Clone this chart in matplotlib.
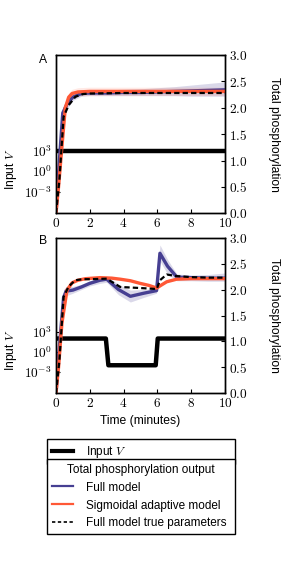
import math
import matplotlib
matplotlib.use('Agg')
import matplotlib.pyplot as plt
from matplotlib.lines import Line2D
from matplotlib.ticker import FuncFormatter, FixedLocator, NullLocator

plt.rcParams['font.family'] = ['Liberation Sans', 'DejaVu Sans']
plt.rcParams['mathtext.fontset'] = 'cm'
plt.rcParams['font.size'] = 8.7

# ---------------- data ----------------
# Panel A: constant input
tA_input = [0, 10]
input_A = [1e3, 1e3]

tA_full = [0, 0.2, 0.4, 0.7, 1.0, 1.5, 2, 3, 4, 5, 6, 7, 8, 9, 10]
full_A = [0, 1.0, 1.9, 2.1, 2.2, 2.27, 2.28, 2.28, 2.29, 2.29, 2.3, 2.31, 2.32, 2.33, 2.34]
full_A_lo = [0, 0.85, 1.8, 2.0, 2.14, 2.22, 2.23, 2.23, 2.23, 2.23, 2.23, 2.23, 2.22, 2.22, 2.22]
full_A_hi = [0, 1.15, 2.02, 2.2, 2.27, 2.33, 2.34, 2.34, 2.35, 2.36, 2.38, 2.4, 2.43, 2.46, 2.49]

tA_sig = [0, 0.15, 0.35, 0.55, 0.75, 0.95, 1.3, 2, 4, 6, 8, 10]
sig_A = [0, 0.5, 1.26, 2.0, 2.2, 2.27, 2.3, 2.31, 2.31, 2.31, 2.31, 2.31]
sig_A_lo = [0, 0.45, 1.18, 1.92, 2.12, 2.19, 2.22, 2.23, 2.23, 2.23, 2.23, 2.23]
sig_A_hi = [0, 0.55, 1.34, 2.08, 2.28, 2.35, 2.38, 2.39, 2.39, 2.39, 2.39, 2.39]

tA_true = [0, 0.2, 0.45, 0.75, 1.15, 1.6, 2, 4, 6, 8, 10]
true_A = [0, 0.63, 1.83, 2.05, 2.21, 2.26, 2.27, 2.28, 2.28, 2.28, 2.28]

# Panel B: switched input
tB_input = [0, 2.95, 3.1, 5.9, 6.02, 10]
input_B = [1e2, 1e2, 1e-2, 1e-2, 1e2, 1e2]

tB_full = [0, 0.2, 0.45, 0.6, 1.0, 1.5, 2.0, 2.6, 3.0, 3.7, 4.4, 5.2, 5.95, 6.15, 6.6, 7.15, 8, 9, 10]
full_B = [0, 0.9, 1.85, 1.97, 1.99, 2.05, 2.12, 2.18, 2.2, 2.0, 1.87, 1.93, 1.98, 2.70, 2.45, 2.24, 2.23, 2.22, 2.22]
full_B_lo = [0, 0.75, 1.7, 1.88, 1.93, 2.0, 2.07, 2.12, 2.14, 1.9, 1.76, 1.85, 1.93, 2.55, 2.3, 2.17, 2.17, 2.16, 2.16]
full_B_hi = [0, 1.05, 2.0, 2.06, 2.06, 2.1, 2.17, 2.23, 2.26, 2.1, 1.99, 2.0, 2.03, 2.86, 2.58, 2.3, 2.28, 2.29, 2.32]

tB_sig = [0, 0.15, 0.35, 0.65, 0.95, 1.3, 1.75, 2.6, 3.3, 3.8, 4.4, 4.97, 5.5, 5.96, 6.25, 6.55, 7.14, 8, 9, 10]
sig_B = [0, 0.5, 1.35, 1.99, 2.13, 2.18, 2.21, 2.23, 2.22, 2.2, 2.17, 2.12, 2.08, 2.03, 2.09, 2.15, 2.2, 2.21, 2.21, 2.21]

tB_true = [0, 0.2, 0.45, 0.75, 1.14, 1.6, 2.0, 3.0, 3.3, 3.8, 4.97, 5.96, 6.15, 6.55, 7.14, 8, 9, 10]
true_B = [0, 0.63, 1.86, 2.06, 2.18, 2.2, 2.2, 2.21, 2.15, 2.05, 2.03, 2.01, 2.18, 2.29, 2.26, 2.24, 2.23, 2.23]

input_ticks = [1e-3, 1e0, 1e3]
out_ticks = [0.0, 0.5, 1.0, 1.5, 2.0, 2.5, 3.0]
time_ticks = [0, 2, 4, 6, 8, 10]

legend_labels = ['Input $V$', 'Full model', 'Sigmoidal adaptive model',
                 'Full model true parameters']
legend_title = 'Total phosphorylation output'

# ---------------- style ----------------
BLUE = '#463f92'
RED = '#ff5836'
W, H = 282, 563
TICKSIZE = 9.6
LEGSIZE = 8.5


def axrect(l, t, r, b):
    return [l / W, 1 - b / H, (r - l) / W, (b - t) / H]


fig = plt.figure(figsize=(W / 100, H / 100), dpi=100)
axA = fig.add_axes(axrect(56, 55, 225, 213.3))
axB = fig.add_axes(axrect(56, 237.7, 225, 393.3))


def panel(ax, letter, t_in, v_in, t_full, full, lo, hi, t_sig, sig, t_true, true,
          sig_lo=None, sig_hi=None, label_y=0.97):
    ax.set_yscale('log')
    ax.set_ylim(10 ** -6.2, 10 ** 17.1)
    ax.set_xlim(0, 10)
    ax.plot(t_in, v_in, color='k', lw=3.2, solid_capstyle='butt')
    ax.yaxis.set_major_locator(FixedLocator(input_ticks))
    ax.yaxis.set_minor_locator(NullLocator())
    ax.yaxis.set_major_formatter(FuncFormatter(
        lambda v, p: r'$10^{%d}$' % round(math.log10(v))))
    ax.xaxis.set_major_locator(FixedLocator(time_ticks))
    ax.xaxis.set_major_formatter(FuncFormatter(lambda v, p: r'$%d$' % v))
    ax.tick_params(direction='in', length=3, width=0.8, pad=3, labelsize=TICKSIZE)
    ax.set_ylabel('Input $V$', ha='center', va='center')
    ax.yaxis.set_label_coords(-0.268, 0.276)

    ax2 = ax.twinx()
    ax2.set_ylim(0, 3)
    ax2.set_xlim(0, 10)
    ax2.fill_between(t_full, lo, hi, color=BLUE, alpha=0.2, lw=0)
    if sig_lo is not None:
        ax2.fill_between(t_sig, sig_lo, sig_hi, color=RED, alpha=0.13, lw=0)
    ax2.plot(t_full, full, color=BLUE, lw=2.4)
    ax2.plot(t_sig, sig, color=RED, lw=2.4)
    ax2.plot(t_true, true, color='k', lw=1.6, linestyle=(0, (2.4, 1.4)))
    ax2.yaxis.set_major_locator(FixedLocator(out_ticks))
    ax2.yaxis.set_major_formatter(FuncFormatter(lambda v, p: r'$%.1f$' % v))
    ax2.tick_params(direction='in', length=3, width=0.8, pad=3, labelsize=TICKSIZE)
    ax2.set_ylabel('Total phosphorylation', rotation=270, ha='center', va='center')
    ax2.yaxis.set_label_coords(1.29, 0.5)
    for a in (ax, ax2):
        for s in a.spines.values():
            s.set_linewidth(1.0)
    ax.text(-0.077, label_y, letter, transform=ax.transAxes,
            ha='center', va='center')
    return ax2


panel(axA, 'A', tA_input, input_A, tA_full, full_A, full_A_lo, full_A_hi,
      tA_sig, sig_A, tA_true, true_A, sig_A_lo, sig_A_hi, label_y=0.966)
panel(axB, 'B', tB_input, input_B, tB_full, full_B, full_B_lo, full_B_hi,
      tB_sig, sig_B, tB_true, true_B, label_y=0.981)

axB.set_xlabel('Time (minutes)', va='center')
axB.xaxis.set_label_coords(0.5, -0.18)

# ---------------- legends ----------------
h_in = Line2D([], [], color='k', lw=3)
h_full = Line2D([], [], color=BLUE, lw=1.6)
h_sig = Line2D([], [], color=RED, lw=1.6)
h_true = Line2D([], [], color='k', lw=1.2, linestyle=(0, (2, 1.5)))

common = dict(loc='upper left', mode='expand', borderaxespad=0, fancybox=False,
              edgecolor='k', framealpha=1, handlelength=1.8, handletextpad=1.1,
              fontsize=LEGSIZE)
leg1 = fig.legend([h_in], [legend_labels[0]],
                  bbox_to_anchor=(47 / W, 1 - 439 / H, 188 / W, 0), **common)
leg2 = fig.legend([h_full, h_sig, h_true], legend_labels[1:], title=legend_title,
                  title_fontsize=LEGSIZE,
                  bbox_to_anchor=(47 / W, 1 - 459 / H, 188 / W, 0), **common)
for lg in (leg1, leg2):
    lg.get_frame().set_linewidth(1.0)

fig.savefig('out.png', dpi=100)
